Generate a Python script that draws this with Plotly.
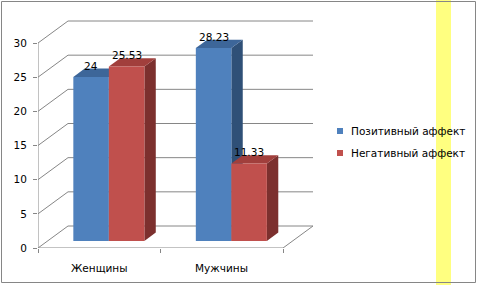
import plotly.graph_objects as go

# ---- data ----
categories = ["Женщины", "Мужчины"]
series_names = ["Позитивный аффект", "Негативный аффект"]
positive = [24, 28.23]
negative = [25.53, 11.33]
y_ticks = [0, 5, 10, 15, 20, 25, 30]

series_values = [positive, negative]
front_colors = ["#4F81BD", "#C0504D"]
top_colors = ["#3D6699", "#A13F3C"]
side_colors = ["#2F5077", "#7C302E"]

# ---- layout geometry (pixels) ----
W, H = 477, 285
L, R, T, B = 38, 164, 18, 37
PW, PH = W - L - R, H - T - B
PX_PER_CAT = 122.5
PX_PER_UNIT = 205 / 30
X0 = -0.5
XMAX = X0 + PW / PX_PER_CAT
YMAX = PH / PX_PER_UNIT
DXD = 30 / PX_PER_CAT          # full depth, x (data units)
DYD = 22 / PX_PER_UNIT         # full depth, y (data units)
F0, F1 = 0.32, 0.70            # bar front/back depth fractions
BW = 0.29                      # bar width (category units)
GRID = "#868686"
FONT = "DejaVu Sans"
FS = 10.5


def px_x(px):
    return (px - L) / PW


def px_y(py):
    return (T + PH - py) / PH


fig = go.Figure()

# back-wall grid with diagonals from front axis
gx, gy = [], []
for t in y_ticks:
    gx += [X0, X0 + DXD, 1.5 + DXD, None]
    gy += [t, t + DYD, t + DYD, None]
fig.add_trace(go.Scatter(x=gx, y=gy, mode="lines", line=dict(color=GRID, width=1),
                         hoverinfo="skip", showlegend=False, cliponaxis=False))

# floor edges and front value axis
fx = [X0, 1.5, 1.5 + DXD, None, X0, X0]
fy = [0, 0, DYD, None, 0, y_ticks[-1]]
fig.add_trace(go.Scatter(x=fx, y=fy, mode="lines", line=dict(color=GRID, width=1),
                         hoverinfo="skip", showlegend=False, cliponaxis=False))

ox, oy = F0 * DXD, F0 * DYD
ex, ey = F1 * DXD, F1 * DYD


def poly(xs, ys, color):
    fig.add_trace(go.Scatter(x=xs + [xs[0]], y=ys + [ys[0]], mode="lines", fill="toself",
                             fillcolor=color, line=dict(width=0, color=color),
                             hoverinfo="skip", showlegend=False, cliponaxis=False))


annotations = []
for j, cat in enumerate(categories):
    for i, vals in enumerate(series_values):
        v = vals[j]
        x0 = j - BW + i * BW
        x1 = x0 + BW
        # side face
        poly([x1 + ox, x1 + ex, x1 + ex, x1 + ox], [oy, ey, v + ey, v + oy], side_colors[i])
        # top face
        poly([x0 + ox, x1 + ox, x1 + ex, x0 + ex], [v + oy, v + oy, v + ey, v + ey], top_colors[i])
        # front face
        poly([x0 + ox, x1 + ox, x1 + ox, x0 + ox], [oy, oy, v + oy, v + oy], front_colors[i])
        annotations.append(dict(x=(x0 + x1) / 2 + ox, y=v + ey, xref="x", yref="y",
                                text=f"{v:g}", showarrow=False, yanchor="middle",
                                yshift=3, font=dict(family=FONT, size=FS, color="#000")))
    annotations.append(dict(x=j, y=0, xref="x", yref="y", text=cat, showarrow=False,
                            yanchor="middle", yshift=-20,
                            font=dict(family=FONT, size=FS, color="#000")))

# manual legend
shapes = []
legend_y = [131, 153]
for i, name in enumerate(series_names):
    cy = legend_y[i]
    shapes.append(dict(type="rect", xref="paper", yref="paper",
                       x0=px_x(337), x1=px_x(343), y0=px_y(cy - 3), y1=px_y(cy + 3),
                       fillcolor=front_colors[i], line=dict(width=0)))
    annotations.append(dict(x=px_x(349), y=px_y(cy), xref="paper", yref="paper",
                            text=name, showarrow=False, xanchor="left", yanchor="middle",
                            font=dict(family=FONT, size=FS, color="#000")))

# yellow band and chart border
shapes.append(dict(type="rect", xref="paper", yref="paper", layer="below",
                   x0=px_x(436), x1=px_x(451), y0=px_y(H), y1=px_y(0),
                   fillcolor="#FFFF80", line=dict(width=0)))
shapes.append(dict(type="rect", xref="paper", yref="paper", layer="above",
                   x0=px_x(1.5), x1=px_x(475.5), y0=px_y(282.5), y1=px_y(1.5),
                   line=dict(color="#868686", width=1), fillcolor="rgba(0,0,0,0)"))

fig.update_layout(
    width=W, height=H,
    margin=dict(l=L, r=R, t=T, b=B, pad=0),
    paper_bgcolor="white", plot_bgcolor="rgba(0,0,0,0)",
    showlegend=False,
    xaxis=dict(range=[X0, XMAX], tickvals=[-0.5, 0.5, 1.5], ticks="outside", ticklen=4,
               tickcolor=GRID, showticklabels=False, showgrid=False, zeroline=False,
               showline=False, fixedrange=True),
    yaxis=dict(range=[0, YMAX], tickvals=y_ticks, ticks="outside", ticklen=4,
               tickcolor=GRID, showgrid=False, zeroline=False, showline=False,
               ticklabelstandoff=4, tickfont=dict(family=FONT, size=FS, color="#000"),
               fixedrange=True),
    annotations=annotations,
    shapes=shapes,
)

fig.write_html("out.html", config={"displayModeBar": False})
